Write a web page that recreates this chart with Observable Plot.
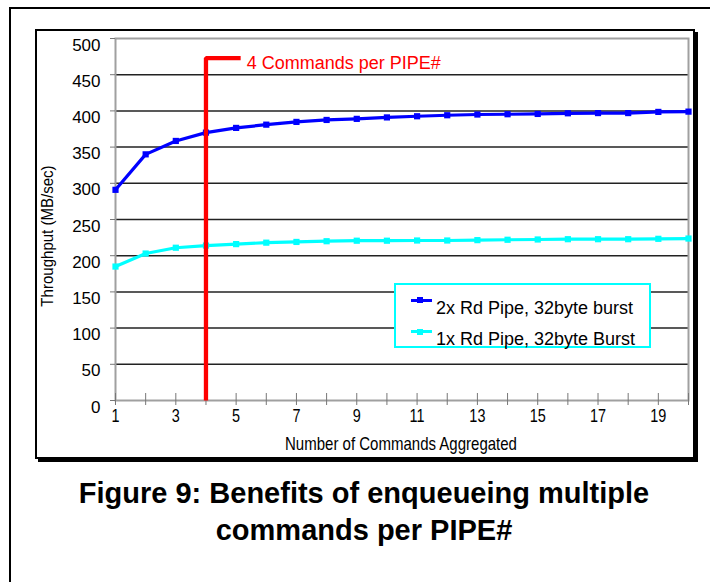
<!DOCTYPE html>
<html><head><meta charset="utf-8">
<script src="https://cdn.jsdelivr.net/npm/d3@7"></script>
<script src="https://cdn.jsdelivr.net/npm/@observablehq/plot@0.6"></script>
<style>
html,body{margin:0;padding:0;background:#fff;width:710px;height:582px;overflow:hidden;font-family:"Liberation Sans",Arial,sans-serif;color:#000;}
.abs{position:absolute;white-space:nowrap;}
</style></head><body>
<div class="abs" style="left:9px;top:7px;width:800px;height:700px;border-left:2px solid #000;border-top:2px solid #000;"></div>
<div class="abs" style="left:35px;top:29px;width:660px;height:430px;box-sizing:border-box;border:2px solid #000;box-shadow:3px 3px 0 #000;"></div>
<div id="chart" class="abs" style="left:0;top:0;"></div>
<div id="legend"></div>
<div class="abs" id="xtitle" style="left:400.5px;top:434px;font-size:19px;line-height:19px;transform:translateX(-50%) scaleX(0.79);"></div>
<div class="abs" id="ytitle" style="left:47.8px;top:236px;font-size:16px;line-height:16px;transform:translate(-50%,-50%) rotate(-90deg) scaleX(0.94);"></div>
<div class="abs" id="title" style="left:0;width:728px;top:475px;text-align:center;font-weight:bold;font-size:29px;line-height:36.7px;"></div>
<script>
// ---- data ----
const commands = [1,2,3,4,5,6,7,8,9,10,11,12,13,14,15,16,17,18,19,20];
const dualPipe = [291, 340, 358.5, 370, 376.5, 381, 384.8, 387.5, 389, 391, 392.6, 394, 395, 395.4, 395.8, 396.7, 397, 397, 398.6, 399];
const singlePipe = [185, 203, 211, 214, 216, 218, 219, 220, 220.7, 220.7, 221, 221, 221.5, 222, 222.4, 222.8, 222.8, 222.8, 223.3, 223.7];
const seriesNames = ["2x Rd Pipe, 32byte burst", "1x Rd Pipe, 32byte Burst"];
const seriesColors = ["#0000ff", "#00ffff"];
const yTicks = [0,50,100,150,200,250,300,350,400,450,500];
const gridValues = [50,100,150,200,250,300,350,400,450];
const xTicks = commands;
const xLabels = [1,3,5,7,9,11,13,15,17,19];
const markerX = [4, 4, 5.15];
const markerY = [0, 473, 473];
const annotationText = "4 Commands per PIPE#";
const annotationX = 5.35;
const annotationY = 466.5;
const xTitle = "Number of Commands Aggregated";
const yTitle = "Throughput (MB/sec)";
const titleLines = ["Figure 9: Benefits of enqueueing multiple", "commands per PIPE#"];

// ---- build ----
const rows = commands.flatMap((c, i) => [
  {c, v: dualPipe[i], s: seriesNames[0]},
  {c, v: singlePipe[i], s: seriesNames[1]}
]);
const marker = markerX.map((x, i) => ({x, y: markerY[i]}));

const plot = Plot.plot({
  width: 710, height: 460,
  marginLeft: 115, marginRight: 22, marginTop: 38, marginBottom: 60,
  style: {background: "transparent", fontFamily: "Liberation Sans, Arial, sans-serif", overflow: "visible", color: "#000"},
  x: {domain: [1, 20]},
  y: {domain: [0, 500]},
  color: {domain: seriesNames, range: seriesColors},
  marks: [
    Plot.ruleY(gridValues, {stroke: "#222", strokeWidth: 1.5}),
    Plot.frame({stroke: "#a0a0a0", strokeWidth: 2}),
    Plot.axisY({ticks: yTicks, tickSize: 5, tickPadding: 10, fontSize: 17, lineAnchor: "top", stroke: "#777", fill: "#000", label: null}),
    Plot.axisX({ticks: xTicks, tickSize: 12, dy: -7, tickFormat: () => "", stroke: "#777", label: null}),
    Plot.axisX({ticks: xLabels, tickSize: 0, tickPadding: 8, fontSize: 19, fill: "#000", label: null}),
    Plot.line(rows, {x: "c", y: "v", z: "s", stroke: "s", strokeWidth: 3.2}),
    Plot.dot(rows, {x: "c", y: "v", fill: "s", symbol: "square", r: 3.5}),
    Plot.line(marker, {x: "x", y: "y", stroke: "#ff0000", strokeWidth: 4.3, strokeLinejoin: "miter", strokeLinecap: "butt"}),
    Plot.text([annotationText], {x: annotationX, y: annotationY, text: d => d, textAnchor: "start", fill: "#ff0000", fontSize: 18})
  ]
});
document.getElementById("chart").appendChild(plot);

// narrow x tick labels
d3.select(plot).selectAll('g[aria-label="x-axis tick label"] text').each(function() {
  const t = this.getAttribute("transform");
  if (t) this.setAttribute("transform", t + " scale(0.76,1)");
  else {
    const x = +this.getAttribute("x") || 0, y = +this.getAttribute("y") || 0;
    this.removeAttribute("x"); this.removeAttribute("y");
    this.setAttribute("transform", `translate(${x},${y}) scale(0.76,1)`);
  }
});

document.getElementById("xtitle").textContent = xTitle;
document.getElementById("ytitle").textContent = yTitle;
document.getElementById("title").innerHTML = titleLines.map(s => `<div>${s}</div>`).join("");

// legend
const lg = document.getElementById("legend");
const box = document.createElement("div");
box.className = "abs";
box.style.cssText = "left:394px;top:283px;width:257px;height:65px;box-sizing:border-box;border:2px solid #00ffff;background:#fff;";
lg.appendChild(box);
seriesNames.forEach((name, i) => {
  const cy = 300 + i * 31.6;
  const line = document.createElement("div");
  line.className = "abs";
  line.style.cssText = `left:411px;top:${cy - 1.5}px;width:21px;height:3px;background:${seriesColors[i]};`;
  const sq = document.createElement("div");
  sq.className = "abs";
  sq.style.cssText = `left:417px;top:${cy - 3}px;width:6px;height:6px;background:${seriesColors[i]};`;
  const tx = document.createElement("div");
  tx.className = "abs";
  tx.style.cssText = `left:436px;top:${299 + i * 31}px;font-size:18px;line-height:18px;`;
  tx.textContent = name;
  lg.appendChild(line); lg.appendChild(sq); lg.appendChild(tx);
});
</script>
</body></html>
